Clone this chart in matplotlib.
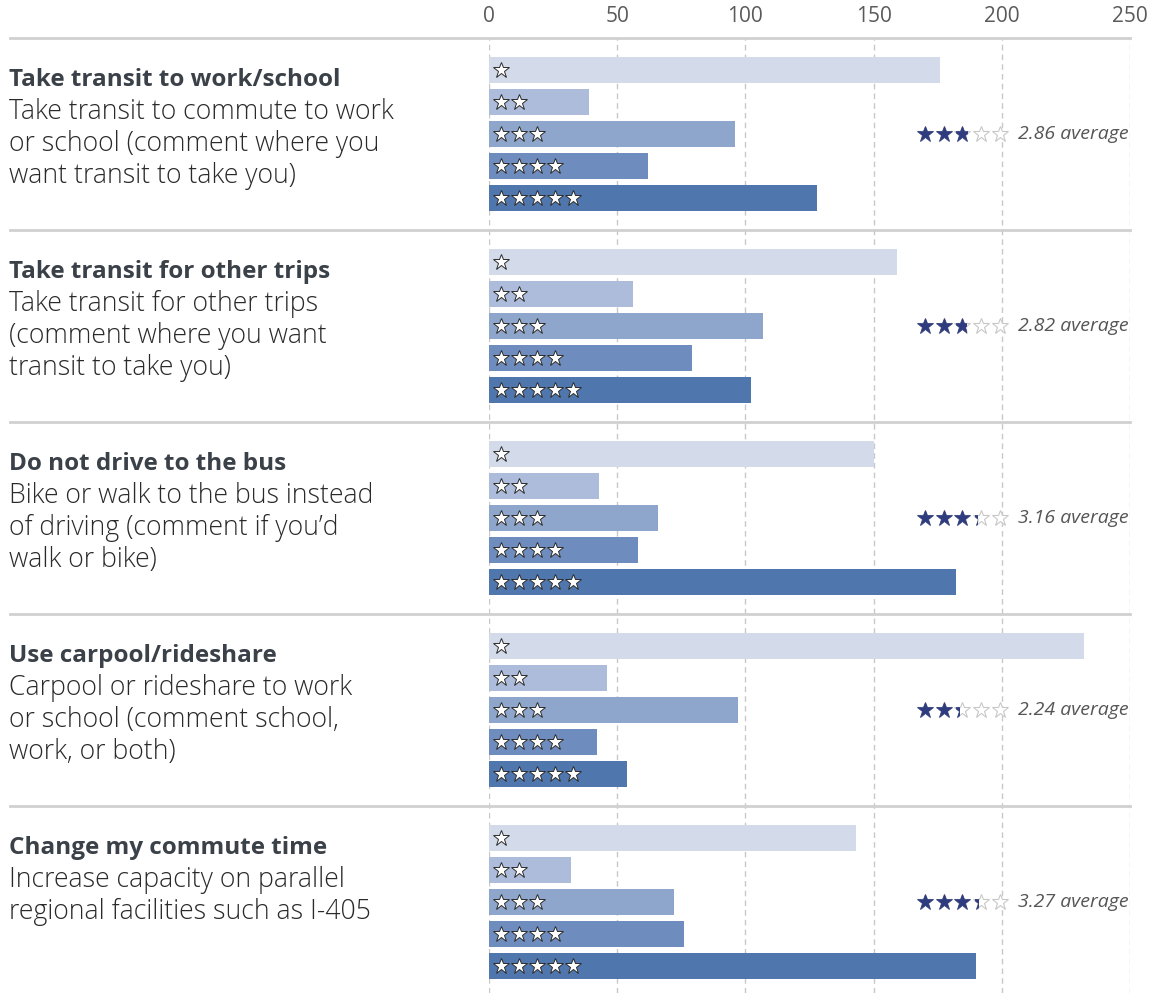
import matplotlib
matplotlib.use("Agg")
import matplotlib.pyplot as plt
import matplotlib.transforms as mtransforms
from matplotlib.lines import Line2D
from matplotlib.patches import Rectangle

# =========================
# data
# =========================
titles = [
    "Take transit to work/school",
    "Take transit for other trips",
    "Do not drive to the bus",
    "Use carpool/rideshare",
    "Change my commute time",
]
descriptions = [
    ["Take transit to commute to work", "or school (comment where you", "want transit to take you)"],
    ["Take transit for other trips", "(comment where you want", "transit to take you)"],
    ["Bike or walk to the bus instead", "of driving (comment if you\u2019d", "walk or bike)"],
    ["Carpool or rideshare to work", "or school (comment school,", "work, or both)"],
    ["Increase capacity on parallel", "regional facilities such as I-405"],
]
# counts for 1..5 stars
counts = [
    [176, 39, 96, 62, 128],
    [159, 56, 107, 79, 102],
    [150, 43, 66, 58, 182],
    [232, 46, 97, 42, 54],
    [143, 32, 72, 76, 190],
]
averages = [2.86, 2.82, 3.16, 2.24, 3.27]
xticks = [0, 50, 100, 150, 200, 250]

bar_colors = ["#d3dbea", "#adbcdb", "#8ea5cc", "#6e8cbe", "#4f76ad"]

plt.rcParams["font.family"] = ["Open Sans", "DejaVu Sans"]

W, H = 11.6, 9.93
fig = plt.figure(figsize=(W, H), dpi=100)
ax = fig.add_axes([489 / 1160, 0, (1130 - 489) / 1160, (993 - 38) / 993])

group_h = 6
ax.set_xlim(0, 250)
ax.set_ylim(955 / 32, 0)

for g, row in enumerate(counts):
    base = g * group_h
    for k, v in enumerate(row):
        y = base + 1 + k
        ax.barh(y, v, height=0.8, color=bar_colors[k], zorder=2)
        # stars inside the bar
        xs = [4.7 + 7.0 * i for i in range(k + 1)]
        ax.plot(xs, [y] * len(xs), linestyle="none", marker="*", markersize=12,
                markerfacecolor="white", markeredgecolor="#2b2b2b",
                markeredgewidth=0.7, zorder=3)

    # average rating stars
    yavg = base + 3
    avg = averages[g]
    sx = [170 + 7.3 * i for i in range(5)]
    ax.plot(sx, [yavg] * 5, linestyle="none", marker="*", markersize=12,
            markerfacecolor="white", markeredgecolor="#c8c8c8",
            markeredgewidth=0.8, zorder=3)
    half = 2.5
    for i, x in enumerate(sx):
        frac = min(max(avg - i, 0), 1)
        if frac <= 0:
            continue
        ln, = ax.plot([x], [yavg], linestyle="none", marker="*", markersize=12,
                      markerfacecolor="#2e3b7e", markeredgecolor="#2e3b7e",
                      markeredgewidth=0.5, zorder=4)
        if frac < 1:
            clip = Rectangle((x - half, yavg - 1), 2 * half * frac, 2,
                             transform=ax.transData)
            ln.set_clip_path(clip)
    ax.text(249.5, yavg, f"{avg:.2f} average", ha="right", va="center",
            fontsize=14, style="italic", color="#555555", zorder=5)

# left text + separators
blend = mtransforms.blended_transform_factory(fig.transFigure, ax.transData)
for g in range(len(titles)):
    base = g * group_h
    fig.add_artist(Line2D([10 / 1160, 1130 / 1160], [base, base], transform=blend,
                          color="#d0d0d0", linewidth=2, zorder=1))
    ax.text(9 / 1160, base + 1.3, titles[g], transform=blend, ha="left", va="center",
            fontsize=17.5, fontweight="bold", color="#3b4148")
    for j, line in enumerate(descriptions[g]):
        ax.text(9 / 1160, base + 2.3 + j, line, transform=blend, ha="left", va="center",
                fontsize=19.2, fontweight="light", color="#2a2a2a")

# axis styling
ax.set_xticks(xticks)
ax.xaxis.tick_top()
ax.tick_params(axis="x", length=0, pad=8, labelsize=15, labelcolor="#5a5a5a")
ax.set_yticks([])
for s in ax.spines.values():
    s.set_visible(False)
ax.xaxis.grid(True, linestyle=(0, (4, 3)), color="#c8c8c8", linewidth=1, zorder=0)
ax.set_axisbelow(True)
ax.patch.set_alpha(0)

plt.savefig("out.png", dpi=100)
